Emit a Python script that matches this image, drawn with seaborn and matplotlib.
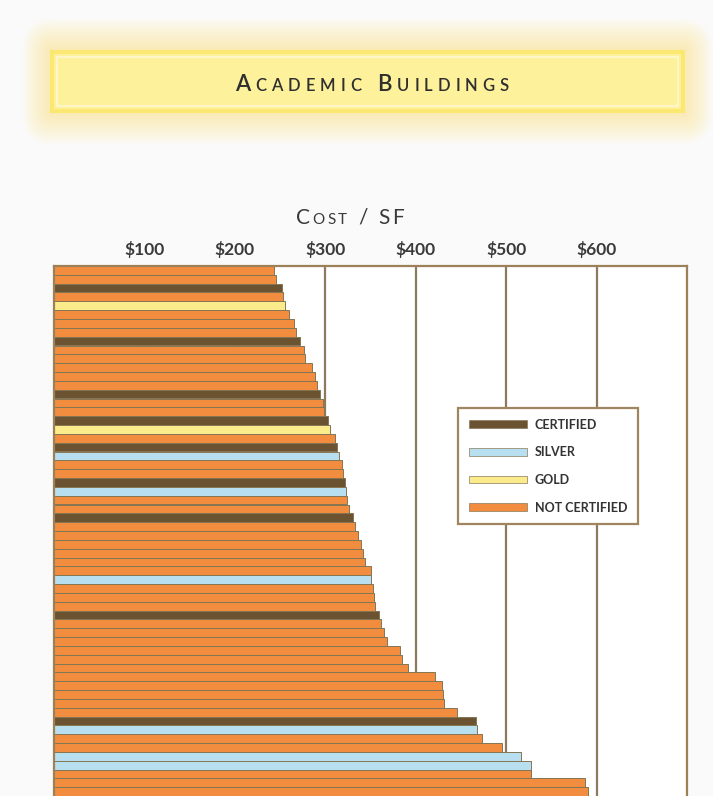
import matplotlib
matplotlib.use('Agg')
import matplotlib.pyplot as plt
import matplotlib.patches as mpatches
from matplotlib.transforms import IdentityTransform
import numpy as np
import pandas as pd
import seaborn as sns

# costo per piede quadrato (in $) di ogni edificio, dall'alto verso il basso
cost = [243, 246, 252, 253, 255, 260, 265, 268, 272, 276,
        278, 285, 289, 291, 294, 297, 299, 303, 305, 311,
        313, 315, 319, 320, 322, 323, 324, 326, 331, 333,
        336, 339, 342, 344, 350, 351, 353, 354, 355, 359,
        362, 365, 368, 383, 385, 392, 421, 429, 430, 431,
        446, 467, 468, 473, 495, 516, 527, 528, 587, 591]

# certificazione: C = Certified, S = Silver, G = Gold, N = Not Certified
status = ['N', 'N', 'C', 'N', 'G', 'N', 'N', 'N', 'C', 'N',
          'N', 'N', 'N', 'N', 'C', 'N', 'N', 'C', 'G', 'N',
          'C', 'S', 'N', 'N', 'C', 'S', 'N', 'N', 'C', 'N',
          'N', 'N', 'N', 'N', 'N', 'S', 'N', 'N', 'N', 'C',
          'N', 'N', 'N', 'N', 'N', 'N', 'N', 'N', 'N', 'N',
          'N', 'C', 'S', 'N', 'N', 'S', 'S', 'N', 'N', 'N']

levels = {'C': 'Certified', 'S': 'Silver', 'G': 'Gold', 'N': 'Not Certified'}
palette = {'Certified': '#6B5331', 'Silver': '#B8DFEF',
           'Gold': '#FCEB8A', 'Not Certified': '#F28C3F'}

ticks = [100, 200, 300, 400, 500, 600]
tick_labels = ['$100', '$200', '$300', '$400', '$500', '$600']

df = pd.DataFrame({'rank': range(len(cost)), 'cost': cost,
                   'status': [levels[s] for s in status]})

sns.set_theme(style='white')
plt.rcParams['font.family'] = ['Lato', 'DejaVu Sans']

W, H = 713, 796
fig = plt.figure(figsize=(W / 100, H / 100), dpi=100, facecolor='#FAFAFA')
ax = fig.add_axes([54 / W, 0, 633 / W, 530 / H])
ax.set_facecolor('white')

sns.barplot(data=df, x='cost', y='rank', hue='status', orient='h', dodge=False,
            order=list(range(len(cost))), palette=palette, saturation=1, width=1,
            errorbar=None, edgecolor='#857553', linewidth=0.7, legend=False, ax=ax)

ax.set_xlim(0, 700)
ax.set_ylim(len(cost) - 0.5, -0.5)
ax.set_xticks(ticks)
ax.set_xticklabels(tick_labels, fontweight='bold')
ax.xaxis.tick_top()
ax.tick_params(axis='x', length=0, pad=6, labelsize=12.5, labelcolor='#3A3A3A')
ax.set_yticks([])
ax.set_xlabel('')
ax.set_ylabel('')
ax.grid(axis='x', color='#8C7A5C', linewidth=1.6)
ax.set_axisbelow(True)
for side in ['left', 'right', 'top']:
    ax.spines[side].set_color('#9C8058')
    ax.spines[side].set_linewidth(1.6)
ax.spines['bottom'].set_visible(False)

# legenda
handles = [mpatches.Patch(facecolor=palette[n], edgecolor='#8A7A5A', linewidth=0.5,
                          label=n.upper()) for n in levels.values()]
leg = ax.legend(handles=handles, loc='upper left', bbox_to_anchor=(458 / W, 1 - 408 / H),
                bbox_transform=fig.transFigure, frameon=True, fancybox=False, framealpha=1,
                facecolor='white', edgecolor='#A08660', handlelength=4.7,
                handleheight=0.6, handletextpad=0.6, labelspacing=1.25, borderpad=0.85,
                borderaxespad=0, prop={'weight': 'bold', 'size': 9})
leg.get_frame().set_linewidth(1.6)
for t in leg.get_texts():
    t.set_color('#333333')

# riquadro giallo del titolo con alone
for k in range(1, 34, 2):
    fig.add_artist(mpatches.FancyBboxPatch((52 / W, 1 - 111 / H), 631 / W, 59 / H,
                                           boxstyle=f'round,pad={k / H},rounding_size={k / H}',
                                           transform=fig.transFigure, mutation_aspect=1,
                                           facecolor='#FCEB7A', edgecolor='none', alpha=0.04))
fig.add_artist(mpatches.Rectangle((52 / W, 1 - 111 / H), 631 / W, 59 / H,
                                  transform=fig.transFigure, facecolor='#FDF19C',
                                  edgecolor='#FAE872', linewidth=3))
fig.add_artist(mpatches.Rectangle((57 / W, 1 - 106 / H), 621 / W, 49 / H,
                                  transform=fig.transFigure, facecolor='none',
                                  edgecolor='#FFF8D2', linewidth=1.2))


def small_caps(text, xc, y, big, small, track, **kw):
    # maiuscoletto: lettere minuscole scritte in maiuscolo piu' piccolo
    r = fig.canvas.get_renderer()
    pieces, widths = [], []
    for ch in text:
        if ch == ' ':
            pieces.append(None)
            widths.append(big * 100 / 72 * 0.28)
            continue
        size = small if ch.islower() else big
        t = fig.text(0, 0, ch.upper(), fontsize=size, transform=IdentityTransform(),
                     va='baseline', ha='left', **kw)
        pieces.append(t)
        widths.append(t.get_window_extent(r).width)
    x = xc - (sum(widths) + track * (len(text) - 1)) / 2
    for t, w in zip(pieces, widths):
        if t is not None:
            t.set_position((x, y))
        x += w + track


small_caps('Academic Buildings', 372, H - 91, 16, 12, 5.0, color='#2F2F2F',
           fontweight='semibold')
small_caps('Cost / SF', 350, H - 224, 15, 11, 2.5, color='#3A3A3A')

fig.savefig('out.png', dpi=100, facecolor=fig.get_facecolor())
